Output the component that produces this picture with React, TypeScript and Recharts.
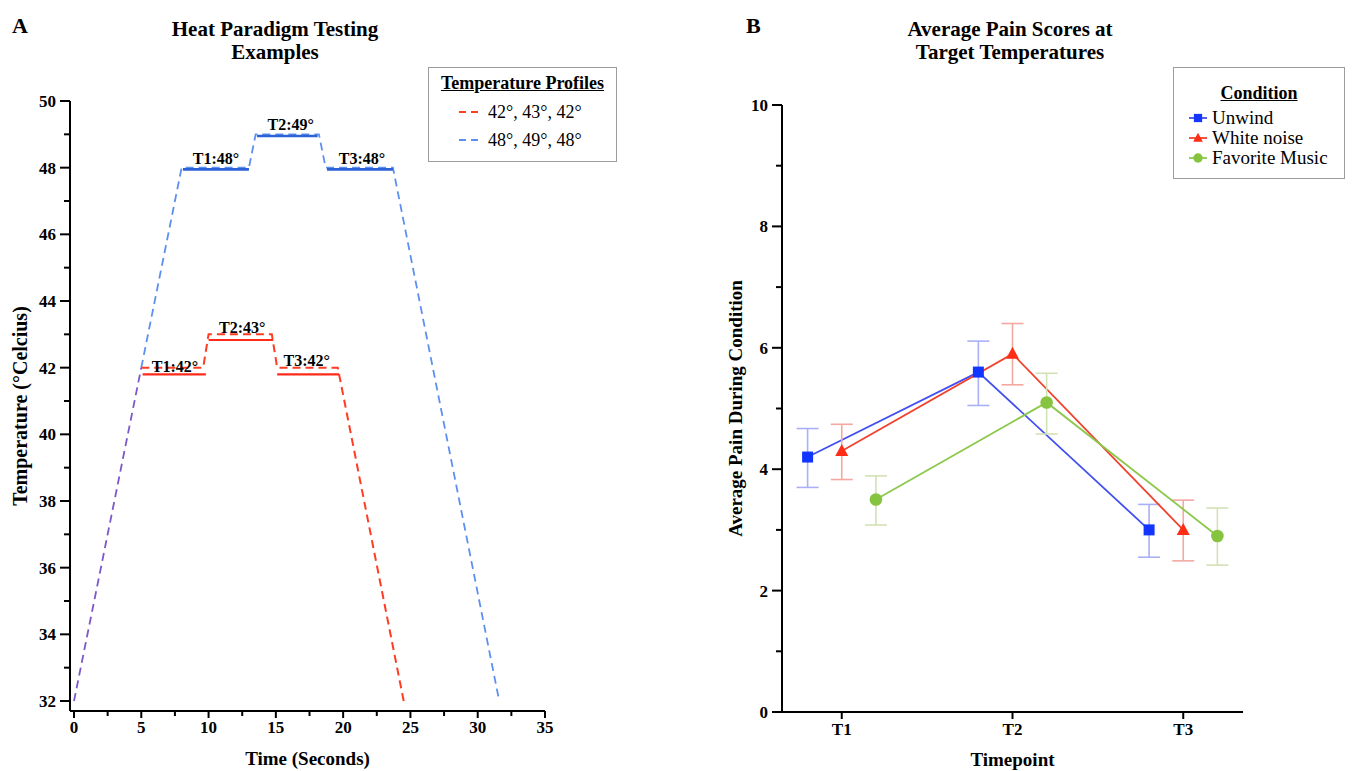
import React from 'react';
import { LineChart, Line, XAxis, YAxis, ErrorBar, ReferenceDot } from 'recharts';

const serif = '"Liberation Serif", "Times New Roman", Times, serif';

// ---- Panel A: heat paradigm temperature profiles
const rampTime = [0, 5];
const rampTemp = [32, 42];

const lowTime = [5, 9.6, 10.0, 14.7, 15.1, 19.6, 24.5];
const lowTemp = [42, 42, 43, 43, 42, 42, 32];
// [start, end, temp] of the solid hold segments
const lowHolds = [
  [5.1, 9.8, 41.8],
  [10.0, 14.8, 42.83],
  [15.1, 19.7, 41.8],
];

const highTime = [5, 8, 13.0, 13.5, 18.2, 18.7, 23.7, 31.6];
const highTemp = [42, 48, 48, 49, 49, 48, 48, 32];
const highHolds = [
  [8.1, 13.0, 47.95],
  [13.6, 18.1, 48.95],
  [18.8, 23.7, 47.95],
];

const holdLabels = ['T1:48°', 'T2:49°', 'T3:48°', 'T1:42°', 'T2:43°', 'T3:42°'];
const holdLabelTime = [10.55, 16.1, 21.4, 7.5, 12.5, 17.3];
const holdLabelTemp = [48, 49, 48, 42, 43, 42];
const holdLabelGap = [4, 4, 4, -4, 1, 2];

const timeTicks = [0, 2.5, 5, 7.5, 10, 12.5, 15, 17.5, 20, 22.5, 25, 27.5, 30, 32.5, 35];
const tempTicks = [32, 33, 34, 35, 36, 37, 38, 39, 40, 41, 42, 43, 44, 45, 46, 47, 48, 49, 50];

const profileNames = ['42°, 43°, 42°', '48°, 49°, 48°'];
const profileColors = ['#ff3b22', '#5c8ff0'];

// ---- Panel B: average pain scores
const timepoints = [1, 2, 3];
const conditions = ['Unwind', 'White noise', 'Favorite Music'];
const unwindMean = [4.2, 5.6, 3.0];
const unwindLow = [3.7, 5.05, 2.55];
const unwindHigh = [4.67, 6.11, 3.42];
const noiseMean = [4.3, 5.9, 3.0];
const noiseLow = [3.83, 5.39, 2.49];
const noiseHigh = [4.74, 6.4, 3.49];
const musicMean = [3.5, 5.1, 2.9];
const musicLow = [3.08, 4.58, 2.42];
const musicHigh = [3.89, 5.58, 3.36];
const painTicks = [0, 1, 2, 3, 4, 5, 6, 7, 8, 9, 10];

const dodge = [-0.2, 0, 0.2];
const lineColors = ['#4150ee', '#f0422e', '#8cc84b'];
const markColors = ['#1236ff', '#ff2d16', '#86c43f'];
const errColors = ['#aab0f6', '#f4a8a2', '#d2e2b4'];
const shapes = ['square', 'triangle', 'circle'];

const toPoints = (ts: number[], vs: number[]) => ts.map((t, i) => ({ t, temp: vs[i] }));
const holdPoints = (h: number[]) => [{ t: h[0], temp: h[2] }, { t: h[1], temp: h[2] }];

const series = [
  [unwindMean, unwindLow, unwindHigh],
  [noiseMean, noiseLow, noiseHigh],
  [musicMean, musicLow, musicHigh],
].map(([mean, low, high], s) =>
  timepoints.map((tp, i) => ({
    x: tp + dodge[s],
    y: mean[i],
    err: [mean[i] - low[i], high[i] - mean[i]],
  }))
);

const tickText = { fontFamily: serif, fontWeight: 700, fontSize: 17, fill: '#000' };

function yTick(size: number, margin: number) {
  return (props: any) => {
    const { x, y, payload } = props;
    const axisX = x + size + margin;
    const major = payload.value % 2 === 0;
    return (
      <g>
        <line x1={axisX} x2={axisX - (major ? size : 6)} y1={y} y2={y} stroke="#000" strokeWidth={2} />
        {major && (
          <text x={x} y={y} dy="0.35em" textAnchor="end" style={tickText}>
            {payload.value}
          </text>
        )}
      </g>
    );
  };
}

function xTick(size: number, margin: number, label: (v: number) => string | null) {
  return (props: any) => {
    const { x, y, payload } = props;
    const axisY = y - size - margin;
    const text = label(payload.value);
    return (
      <g>
        <line x1={x} x2={x} y1={axisY} y2={axisY + (text ? size : 5)} stroke="#000" strokeWidth={2} />
        {text && (
          <text x={x} y={y} dy="0.71em" textAnchor="middle" style={tickText}>
            {text}
          </text>
        )}
      </g>
    );
  };
}

function Marker({ shape, cx, cy, color, k = 1 }: any) {
  if (cx == null || cy == null) return null;
  if (shape === 'square') {
    const s = 11 * k;
    return <rect x={cx - s / 2} y={cy - s / 2} width={s} height={s} fill={color} />;
  }
  if (shape === 'triangle') {
    const p = `${cx},${cy - 7 * k} ${cx - 6.5 * k},${cy + 5 * k} ${cx + 6.5 * k},${cy + 5 * k}`;
    return <polygon points={p} fill={color} />;
  }
  return <circle cx={cx} cy={cy} r={6.3 * k} fill={color} />;
}

const axisTitle = { fontFamily: serif, fontWeight: 700, fontSize: 19, fill: '#000' };
const titleStyle: React.CSSProperties = {
  position: 'absolute',
  fontFamily: serif,
  fontWeight: 700,
  fontSize: 21,
  lineHeight: '23px',
  textAlign: 'center',
  color: '#000',
};
const legendBox: React.CSSProperties = {
  position: 'absolute',
  border: '1.5px solid #9c9c9c',
  background: '#fff',
  fontFamily: serif,
  color: '#000',
  boxSizing: 'border-box',
};

export default function App() {
  return (
    <div style={{ position: 'absolute', left: 0, top: 0, width: 1352, height: 771, background: '#fff', overflow: 'hidden' }}>
      {/* panel letters and titles */}
      <div style={{ ...titleStyle, left: 12, top: 14, fontSize: 22 }}>A</div>
      <div style={{ ...titleStyle, left: 125, top: 18, width: 300 }}>
        Heat Paradigm Testing
        <br />
        Examples
      </div>
      <div style={{ ...titleStyle, left: 746, top: 14, fontSize: 22 }}>B</div>
      <div style={{ ...titleStyle, left: 860, top: 18, width: 300 }}>
        Average Pain Scores at
        <br />
        Target Temperatures
      </div>

      {/* Panel A */}
      <LineChart
        width={600}
        height={771}
        style={{ position: 'absolute', left: 0, top: 0 }}
        margin={{ top: 101, right: 55, bottom: 0, left: 10 }}
      >
        <XAxis
          type="number"
          dataKey="t"
          domain={[0, 35]}
          ticks={timeTicks}
          interval={0}
          padding={{ left: 4, right: 0 }}
          height={60}
          tickSize={7}
          tickMargin={3}
          tickLine={false}
          axisLine={{ stroke: '#000', strokeWidth: 2 }}
          tick={xTick(7, 3, (v) => (v % 5 === 0 ? String(v) : null))}
          label={{ value: 'Time (Seconds)', position: 'insideBottom', offset: 6, style: axisTitle }}
        />
        <YAxis
          type="number"
          domain={[32, 50]}
          ticks={tempTicks}
          interval={0}
          padding={{ top: 0, bottom: 10 }}
          width={60}
          tickSize={10}
          tickMargin={4}
          tickLine={false}
          axisLine={{ stroke: '#000', strokeWidth: 2 }}
          tick={yTick(10, 4)}
          label={{
            value: 'Temperature (°Celcius)',
            angle: -90,
            position: 'insideLeft',
            offset: 10,
            style: { ...axisTitle, fontSize: 20, textAnchor: 'middle' },
          }}
        />
        <Line
          data={toPoints(rampTime, rampTemp)}
          dataKey="temp"
          stroke="#7d58c8"
          strokeWidth={1.8}
          strokeDasharray="8 5"
          dot={false}
          isAnimationActive={false}
        />
        <Line
          data={toPoints(highTime, highTemp)}
          dataKey="temp"
          stroke={profileColors[1]}
          strokeWidth={1.8}
          strokeDasharray="8 5"
          dot={false}
          isAnimationActive={false}
        />
        {highHolds.map((h, i) => (
          <Line
            key={'hh' + i}
            data={holdPoints(h)}
            dataKey="temp"
            stroke="#2c62d8"
            strokeWidth={2.6}
            dot={false}
            isAnimationActive={false}
          />
        ))}
        <Line
          data={toPoints(lowTime, lowTemp)}
          dataKey="temp"
          stroke={profileColors[0]}
          strokeWidth={2}
          strokeDasharray="8 5"
          dot={false}
          isAnimationActive={false}
        />
        {lowHolds.map((h, i) => (
          <Line
            key={'lh' + i}
            data={holdPoints(h)}
            dataKey="temp"
            stroke="#ff2a1a"
            strokeWidth={2.2}
            dot={false}
            isAnimationActive={false}
          />
        ))}
        {holdLabels.map((txt, i) => (
          <ReferenceDot
            key={'lab' + i}
            x={holdLabelTime[i]}
            y={holdLabelTemp[i]}
            r={0}
            fill="none"
            stroke="none"
            label={{ value: txt, position: 'top', offset: holdLabelGap[i], style: { ...tickText, fontSize: 16 } }}
          />
        ))}
      </LineChart>

      {/* Panel B */}
      <LineChart
        width={662}
        height={771}
        style={{ position: 'absolute', left: 690, top: 0 }}
        margin={{ top: 105, right: 109, bottom: 0, left: 32 }}
      >
        <XAxis
          type="number"
          dataKey="x"
          domain={[0.65, 3.35]}
          ticks={timepoints}
          interval={0}
          height={59}
          tickSize={7}
          tickMargin={4}
          tickLine={false}
          axisLine={{ stroke: '#000', strokeWidth: 2 }}
          tick={xTick(7, 4, (v) => 'T' + v)}
          label={{ value: 'Timepoint', position: 'insideBottom', offset: 5, style: axisTitle }}
        />
        <YAxis
          type="number"
          domain={[0, 10]}
          ticks={painTicks}
          interval={0}
          width={60}
          tickSize={10}
          tickMargin={4}
          tickLine={false}
          axisLine={{ stroke: '#000', strokeWidth: 2 }}
          tick={yTick(10, 4)}
          label={{
            value: 'Average Pain During Condition',
            angle: -90,
            position: 'insideLeft',
            offset: 13,
            style: { ...axisTitle, textAnchor: 'middle' },
          }}
        />
        {series.map((pts, s) => (
          <Line
            key={conditions[s]}
            name={conditions[s]}
            data={pts}
            dataKey="y"
            stroke={lineColors[s]}
            strokeWidth={1.8}
            isAnimationActive={false}
            dot={(p: any) => (
              <Marker key={'m' + s + '-' + p.index} shape={shapes[s]} cx={p.cx} cy={p.cy} color={markColors[s]} />
            )}
          >
            <ErrorBar
              dataKey="err"
              direction="y"
              width={11}
              stroke={errColors[s]}
              strokeWidth={1.6}
              isAnimationActive={false}
            />
          </Line>
        ))}
      </LineChart>

      {/* Legend A */}
      <div style={{ ...legendBox, left: 428, top: 67, width: 189, height: 95 }}>
        <div style={{ textAlign: 'center', fontWeight: 700, fontSize: 18, textDecoration: 'underline', marginTop: 5, marginBottom: 4 }}>
          Temperature Profiles
        </div>
        {profileNames.map((n, i) => (
          <div key={n} style={{ display: 'flex', alignItems: 'center', height: 28, marginLeft: 29, fontSize: 18 }}>
            <svg width={22} height={10} style={{ marginRight: 8 }}>
              <line x1={1} x2={21} y1={5} y2={5} stroke={profileColors[i]} strokeWidth={2} strokeDasharray="7 5" />
            </svg>
            {n}
          </div>
        ))}
      </div>

      {/* Legend B */}
      <div style={{ ...legendBox, left: 1173, top: 67, width: 172, height: 112 }}>
        <div style={{ textAlign: 'center', fontWeight: 700, fontSize: 18, textDecoration: 'underline', marginTop: 15, marginBottom: 4 }}>
          Condition
        </div>
        {conditions.map((c, i) => (
          <div key={c} style={{ display: 'flex', alignItems: 'center', height: 20, marginLeft: 14, fontSize: 19 }}>
            <svg width={20} height={14} style={{ marginRight: 4 }}>
              <line x1={1} x2={19} y1={7} y2={7} stroke={lineColors[i]} strokeWidth={1.8} />
              <Marker shape={shapes[i]} cx={10} cy={7} color={markColors[i]} k={0.75} />
            </svg>
            {c}
          </div>
        ))}
      </div>
    </div>
  );
}
